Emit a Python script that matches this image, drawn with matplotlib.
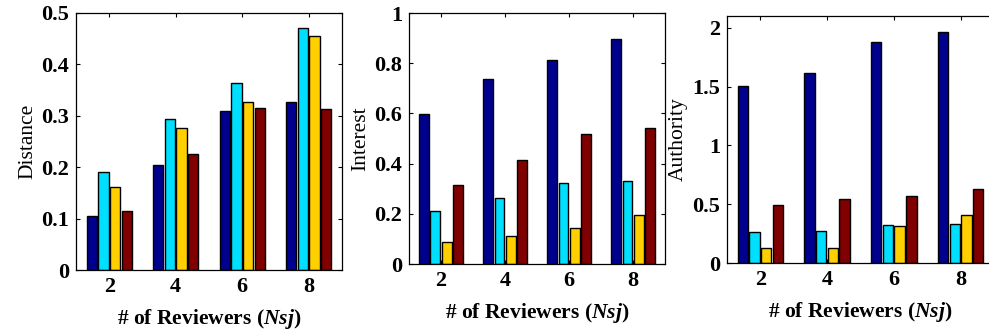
import matplotlib
matplotlib.use("Agg")
import matplotlib.pyplot as plt
import numpy as np

reviewers = [2, 4, 6, 8]
colors = ["#00008F", "#00DFFF", "#FFCF00", "#800000"]

distance = [
    [0.105, 0.205, 0.310, 0.327],
    [0.190, 0.293, 0.364, 0.471],
    [0.162, 0.276, 0.327, 0.455],
    [0.114, 0.225, 0.316, 0.313],
]
interest = [
    [0.599, 0.738, 0.814, 0.898],
    [0.210, 0.262, 0.321, 0.331],
    [0.086, 0.110, 0.145, 0.197],
    [0.315, 0.413, 0.518, 0.543],
]
authority = [
    [1.508, 1.613, 1.881, 1.969],
    [0.260, 0.274, 0.322, 0.333],
    [0.124, 0.124, 0.311, 0.410],
    [0.494, 0.545, 0.568, 0.630],
]

plt.rcParams["font.family"] = ["Liberation Serif", "DejaVu Serif"]
plt.rcParams["mathtext.fontset"] = "custom"
plt.rcParams["mathtext.it"] = "Liberation Serif:italic:bold"
plt.rcParams["mathtext.rm"] = "Liberation Serif:bold"

fig = plt.figure(figsize=(9.89, 3.3), dpi=100)

panels = [
    (distance, "Distance", [0.0768, 0.1818, 0.269, 0.779], (0, 0.5), [0, 0.1, 0.2, 0.3, 0.4, 0.5], ["0", "0.1", "0.2", "0.3", "0.4", "0.5"]),
    (interest, "Interest", [0.4136, 0.2, 0.2589, 0.7606], (0, 1.0), [0, 0.2, 0.4, 0.6, 0.8, 1.0], ["0", "0.2", "0.4", "0.6", "0.8", "1"]),
    (authority, "Authority", [0.735, 0.203, 0.27, 0.748], (0, 2.1), [0, 0.5, 1.0, 1.5, 2.0], ["0", "0.5", "1", "1.5", "2"]),
]

offsets = [-0.525, -0.175, 0.175, 0.525]
x = np.array(reviewers, dtype=float)
for data, ylab, rect, ylim, yt, ytl in panels:
    ax = fig.add_axes(rect)
    for i, series in enumerate(data):
        ax.bar(x + offsets[i], series, width=0.31, color=colors[i],
               edgecolor="black", linewidth=1.0, zorder=2)
    ax.set_xlim(1, 9)
    ax.set_ylim(*ylim)
    ax.set_xticks(reviewers)
    ax.set_xticklabels([str(r) for r in reviewers], fontsize=16, fontweight="bold")
    ax.set_yticks(yt)
    ax.set_yticklabels(ytl, fontsize=16, fontweight="bold")
    ax.tick_params(direction="in", top=True, right=True, length=3, width=0.8, pad=5)
    for s in ax.spines.values():
        s.set_linewidth(0.9)
    ax.set_ylabel(ylab, fontsize=15.5, labelpad=3)
    ax.set_xlabel(r"# of Reviewers ($\mathit{Nsj}$)", fontsize=15.5, fontweight="bold", labelpad=7)

fig.savefig("out.png", dpi=100)
